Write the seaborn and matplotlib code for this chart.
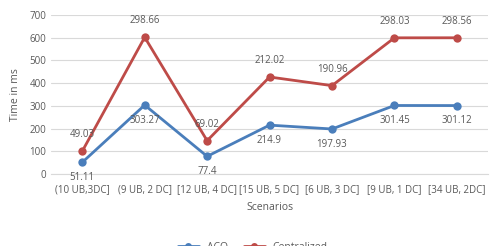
import numpy as np
import pandas as pd
import seaborn as sns
import matplotlib.pyplot as plt
from matplotlib.lines import Line2D

scenarios = ['(10 UB,3DC]', '(9 UB, 2 DC]', '[12 UB, 4 DC]', '[15 UB, 5 DC]',
             '[6 UB, 3 DC]', '[9 UB, 1 DC]', '[34 UB, 2DC]']
aco = [51.11, 303.27, 77.4, 214.9, 197.93, 301.45, 301.12]
centralized = [49.03, 298.66, 69.02, 212.02, 190.96, 298.03, 298.56]

# stacked line chart: second series sits on top of the first
stacked = np.array(aco) + np.array(centralized)

df = pd.DataFrame({
    'Scenario': scenarios * 2,
    'Time': list(aco) + list(stacked),
    'Method': ['ACO'] * len(scenarios) + ['Centralized'] * len(scenarios),
})

sns.set_style('white')
plt.rcParams['font.family'] = ['Open Sans', 'DejaVu Sans']

fig = plt.figure(figsize=(4.91, 2.46), dpi=100)
ax = fig.add_axes([0.104, 0.293, 0.89, 0.646])

palette = {'ACO': '#4a7ebb', 'Centralized': '#be4b48'}
sns.lineplot(data=df, x='Scenario', y='Time', hue='Method', palette=palette,
             marker='o', markersize=6, markeredgewidth=0, linewidth=2,
             ax=ax, legend=False, sort=False)

txt_color = '#595959'
for i in range(len(scenarios)):
    ax.annotate(f'{aco[i]:g}', (i, aco[i]), xytext=(0, -7), textcoords='offset points',
                ha='center', va='top', fontsize=7, color=txt_color)
    ax.annotate(f'{centralized[i]:g}', (i, stacked[i]), xytext=(0, 8), textcoords='offset points',
                ha='center', va='bottom', fontsize=7, color=txt_color)

ax.set_xlim(-0.5, len(scenarios) - 0.5)
ax.set_ylim(0, 700)
ax.set_yticks(range(0, 701, 100))
ax.grid(axis='y', color='#d9d9d9', linewidth=0.8)
for s in ['top', 'right', 'left']:
    ax.spines[s].set_visible(False)
ax.spines['bottom'].set_color('#d9d9d9')
ax.tick_params(axis='both', length=0, labelsize=7, colors=txt_color)
ax.tick_params(axis='x', pad=7)
ax.set_xlabel('Scenarios', fontsize=7.5, color=txt_color, labelpad=5)
ax.set_ylabel('Time in ms', fontsize=7.5, color=txt_color, labelpad=6)

handles = [Line2D([], [], color=palette[k], marker='o', markersize=5, linewidth=2,
                  markeredgewidth=0) for k in ['ACO', 'Centralized']]
fig.legend(handles, ['ACO', 'Centralized'], loc='center', bbox_to_anchor=(0.515, -0.005),
           ncol=2, frameon=False, fontsize=7.5, labelcolor=txt_color,
           handlelength=2, columnspacing=1.5)

fig.savefig('out.png', dpi=100)
